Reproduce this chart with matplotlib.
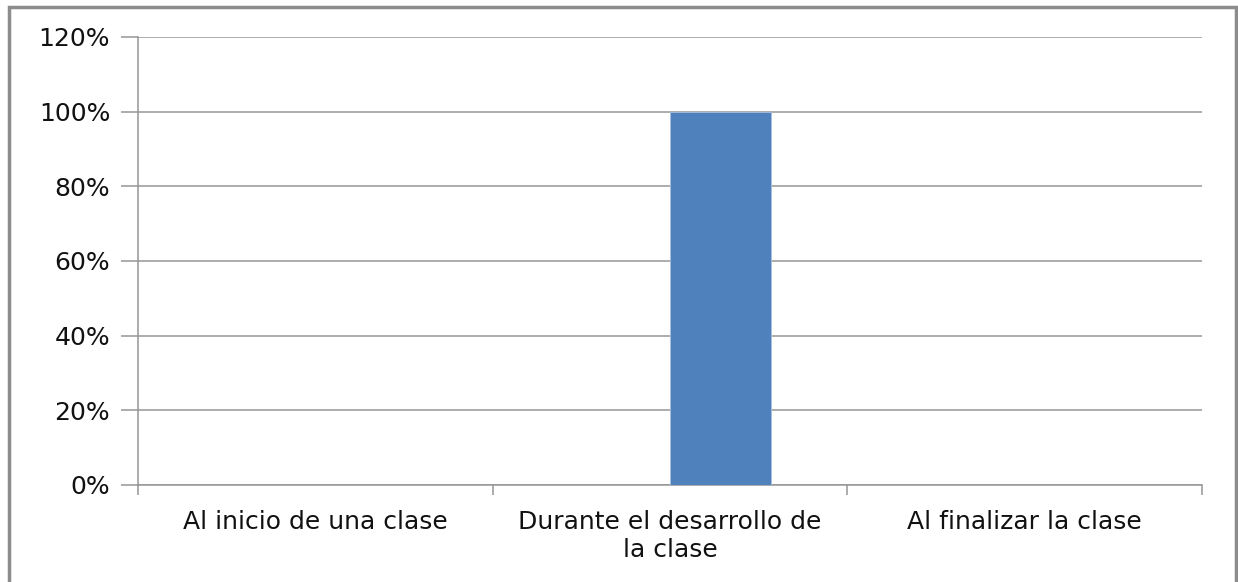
import matplotlib
matplotlib.use("Agg")
import matplotlib.pyplot as plt
from matplotlib.patches import Rectangle
from matplotlib.ticker import FuncFormatter, MultipleLocator

categories = ["Al inicio de una clase", "Durante el desarrollo de\nla clase", "Al finalizar la clase"]
series_a = [0.0, 0.0, 0.0]
series_b = [0.0, 1.0, 0.0]

W, H = 1238, 582
fig = plt.figure(figsize=(W / 100, H / 100), dpi=100)
plt.rcParams["font.family"] = ["DejaVu Sans"]

# chart frame
fig.patches.append(Rectangle((9 / W, -0.02), (1236 - 9) / W, 1 - 7 / H + 0.02,
                             transform=fig.transFigure, fill=False,
                             edgecolor="#8c8c8c", linewidth=2.5, zorder=0))

ax = fig.add_axes([138 / W, 1 - 485 / H, (1202 - 138) / W, (485 - 37) / H])
x = list(range(len(categories)))
bw = 0.285
ax.bar([i - bw / 2 for i in x], series_a, width=bw, color="#4f81bd", linewidth=0, zorder=3)
ax.bar([i + bw / 2 for i in x], series_b, width=bw, color="#4f81bd",
       edgecolor="#a8bfdc", linewidth=0.6, zorder=3)

ax.set_xlim(-0.5, len(categories) - 0.5)
ax.set_ylim(0, 1.2)
ax.yaxis.set_major_locator(MultipleLocator(0.2))
ax.yaxis.set_major_formatter(FuncFormatter(lambda v, p: f"{v * 100:.0f}%"))
ax.grid(axis="y", color="#969696", linewidth=1.1, zorder=0)

ax.set_xticks([i - 0.5 for i in range(len(categories) + 1)], minor=False)
ax.set_xticklabels([])
ax.set_xticks(x, minor=True)
ax.set_xticklabels(categories, minor=True, fontsize=18, color="#111111", linespacing=1.2)
ax.tick_params(axis="x", which="major", length=7, color="#969696", width=1.1)
ax.tick_params(axis="x", which="minor", length=0, pad=18)
ax.tick_params(axis="y", length=12, color="#969696", width=1.1, labelsize=18,
               labelcolor="#111111", pad=8)

for s in ["top", "right"]:
    ax.spines[s].set_visible(False)
for s in ["left", "bottom"]:
    ax.spines[s].set_color("#969696")
    ax.spines[s].set_linewidth(1.1)

fig.savefig("out.png", dpi=100)
